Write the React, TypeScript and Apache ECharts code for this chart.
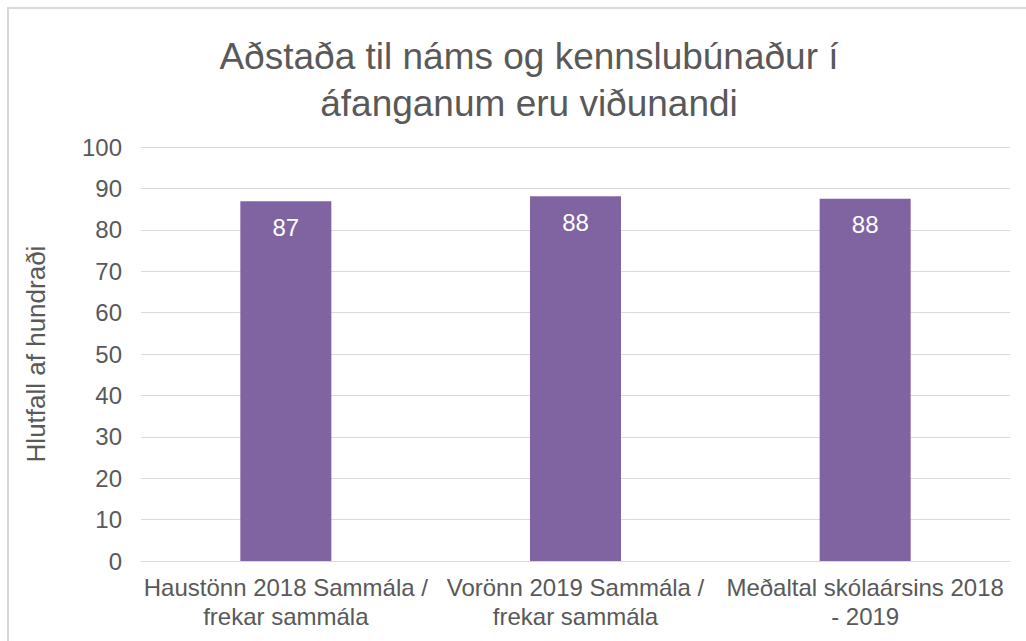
import React, { useEffect, useRef } from "react";
import * as echarts from "echarts";

const titleLines = ["Aðstaða til náms og kennslubúnaður í", "áfanganum eru viðunandi"];
const categories = [
  "Haustönn 2018 Sammála /\nfrekar sammála",
  "Vorönn 2019 Sammála /\nfrekar sammála",
  "Meðaltal skólaársins 2018\n- 2019",
];
const values = [86.9, 88.1, 87.5];
const yAxisName = "Hlutfall af hundraði";

const FONT = "'Liberation Sans', Arial, sans-serif";

export default function App() {
  const ref = useRef<HTMLDivElement>(null);
  useEffect(() => {
    if (!ref.current) return;
    const chart = echarts.init(ref.current, null, { renderer: "svg" });
    chart.setOption({
      animation: false,
      backgroundColor: "#ffffff",
      title: {
        text: titleLines.join("\n"),
        left: 515,
        top: 19,
        textAlign: "center",
        textStyle: {
          fontFamily: FONT,
          fontSize: 37,
          fontWeight: "normal",
          color: "#595959",
          lineHeight: 47,
        },
      },
      grid: { left: 132, right: 39, top: 138, bottom: 108 },
      xAxis: {
        type: "category",
        data: categories,
        axisLine: { lineStyle: { color: "#d9d9d9", width: 1 } },
        axisTick: { show: false },
        axisLabel: {
          fontFamily: FONT,
          fontSize: 24,
          color: "#595959",
          lineHeight: 29,
          margin: 12,
          interval: 0,
        },
      },
      yAxis: {
        type: "value",
        min: 0,
        max: 100,
        interval: 10,
        name: yAxisName,
        nameLocation: "middle",
        nameGap: 92,
        nameRotate: 90,
        nameTextStyle: { fontFamily: FONT, fontSize: 26, color: "#595959" },
        axisLine: { show: false },
        axisTick: { show: false },
        splitLine: { lineStyle: { color: "#d9d9d9", width: 1 } },
        axisLabel: { fontFamily: FONT, fontSize: 24, color: "#595959", margin: 19 },
      },
      series: [
        {
          type: "bar",
          data: values,
          barWidth: 91,
          itemStyle: { color: "#8064a2" },
          label: {
            show: true,
            position: "insideTop",
            distance: 14,
            fontFamily: FONT,
            fontSize: 24,
            color: "#ffffff",
            formatter: (p: any) => String(Math.round(p.value)),
          },
        },
      ],
    });
    return () => chart.dispose();
  }, []);
  return (
    <div
      style={{
        position: "absolute",
        left: 7,
        top: 7,
        width: 1040,
        height: 660,
        border: "2px solid #d9d9d9",
        boxSizing: "content-box",
        background: "#fff",
      }}
    >
      <div ref={ref} style={{ width: 1040, height: 660 }} />
    </div>
  );
}
